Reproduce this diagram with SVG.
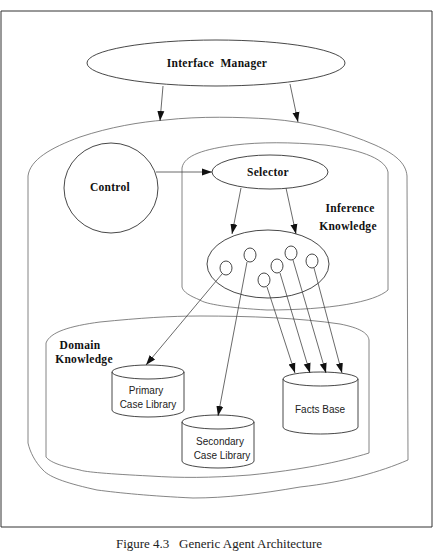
<svg xmlns="http://www.w3.org/2000/svg" width="437" height="553" viewBox="0 0 437 553">
<defs>
<marker id="ah" markerUnits="userSpaceOnUse" markerWidth="10" markerHeight="10" viewBox="0 0 10 10" refX="10" refY="5" orient="auto">
<path d="M0,1.5 L10,5 L0,8.5 Z" fill="#111"/>
</marker>
</defs>
<style>
.blob{fill:none;stroke:#666;stroke-width:0.8}
.node{fill:#fff;stroke:#333;stroke-width:0.9}
.conn{fill:none;stroke:#444;stroke-width:0.8}
.lbl{font-family:"Liberation Serif",serif;font-weight:bold;font-size:11.5px;letter-spacing:0.3px;fill:#111}
.cyl{font-family:"Liberation Sans",Arial,sans-serif;font-size:10px;fill:#222}
.cap{font-family:"Liberation Serif",serif;font-size:13px;fill:#222}
</style>
<rect width="437" height="553" fill="#fff"/>
<path d="M1,11 L432,11 L432,527 L1,527 Z" fill="none" stroke="#333" stroke-width="1"/>
<g id="outer">
<path class="blob" d="M28,443 L28,176 C30,160 50,148 80,137 C110,127 140,122 165,120 C200,116 240,117 270,119 C310,122 345,132 375,145 C395,154 406,163 407,176 L408,460 C380,472 345,482 300,487 C260,494 225,498 193,498 C150,496 120,493 97,490 C70,484 50,478 43,470 C35,462 30,452 28,443 Z"/>
</g>
<g id="inference">
<path class="blob" d="M182,287 L182,168 C184,155 205,149 235,145 C260,142 290,142 325,145 C355,149 385,157 388,172 L388,290 C375,302 330,310 267,310 C230,308 205,304 200,300 C190,296 183,292 182,287 Z"/>
<text class="lbl" x="350" y="212" text-anchor="middle">Inference</text>
<text class="lbl" x="348" y="230" text-anchor="middle">Knowledge</text>
</g>
<g id="domain">
<path class="blob" d="M46,457 L46,343 C50,332 70,326 100,322 C140,318 170,316 200,316 C250,316 300,318 340,324 C360,328 368,333 369,340 L369,453 C340,462 300,470 250,475 C210,478 180,478 150,476 C110,474 85,472 80,470 C60,466 50,462 46,457 Z"/>
<text class="lbl" x="80" y="349" text-anchor="middle">Domain</text>
<text class="lbl" x="84" y="363" text-anchor="middle">Knowledge</text>
</g>
<g id="interface-manager">
<ellipse class="node" cx="216" cy="63" rx="129" ry="23"/>
<text class="lbl" x="217" y="67" text-anchor="middle" xml:space="preserve">Interface  Manager</text>
</g>
<g id="control">
<ellipse class="node" cx="111" cy="188" rx="47" ry="45"/>
<text class="lbl" x="110" y="191" text-anchor="middle">Control</text>
</g>
<g id="selector">
<ellipse class="node" cx="270" cy="172" rx="58" ry="17"/>
<text class="lbl" x="268" y="176" text-anchor="middle">Selector</text>
</g>
<g id="rule-cluster">
<ellipse class="node" cx="268" cy="264" rx="61" ry="34"/>
<ellipse class="node" cx="226" cy="268" rx="6" ry="7"/>
<ellipse class="node" cx="250" cy="255" rx="6" ry="7"/>
<ellipse class="node" cx="264" cy="280" rx="6" ry="7"/>
<ellipse class="node" cx="277" cy="266" rx="6" ry="7"/>
<ellipse class="node" cx="291" cy="253" rx="6" ry="7"/>
<ellipse class="node" cx="312" cy="261" rx="6" ry="7"/>
</g>
<g id="primary-case-library">
<path class="node" d="M112,372 L112,410 A36,7 0 0 0 184,410 L184,372 A36,7 0 0 0 112,372 A36,7 0 0 0 184,372"/>
<text class="cyl" x="146" y="394" text-anchor="middle">Primary</text>
<text class="cyl" x="148" y="408" text-anchor="middle">Case Library</text>
</g>
<g id="secondary-case-library">
<path class="node" d="M182,422 L182,461 A36,7 0 0 0 254,461 L254,422 A36,7 0 0 0 182,422 A36,7 0 0 0 254,422"/>
<text class="cyl" x="220" y="445" text-anchor="middle">Secondary</text>
<text class="cyl" x="222" y="459" text-anchor="middle">Case Library</text>
</g>
<g id="facts-base">
<path class="node" d="M283,379 L283,427 A37.5,7 0 0 0 358,427 L358,379 A37.5,7 0 0 0 283,379 A37.5,7 0 0 0 358,379"/>
<text class="cyl" x="320" y="413" text-anchor="middle">Facts Base</text>
</g>
<g id="connectors">
<line class="conn" x1="163" y1="86" x2="160" y2="121" marker-end="url(#ah)"/>
<line class="conn" x1="290" y1="84" x2="298" y2="122" marker-end="url(#ah)"/>
<line class="conn" x1="156" y1="172" x2="212" y2="172" stroke-width="1.1" marker-end="url(#ah)"/>
<line class="conn" x1="241" y1="188" x2="232" y2="234" marker-end="url(#ah)"/>
<line class="conn" x1="286" y1="188" x2="296" y2="234" marker-end="url(#ah)"/>
<line class="conn" x1="222" y1="274" x2="146" y2="365" marker-end="url(#ah)"/>
<line class="conn" x1="247" y1="262" x2="218" y2="416" marker-end="url(#ah)"/>
<line class="conn" x1="267" y1="287" x2="295" y2="373" marker-end="url(#ah)"/>
<line class="conn" x1="280" y1="273" x2="310" y2="373" marker-end="url(#ah)"/>
<line class="conn" x1="293" y1="260" x2="326" y2="373" marker-end="url(#ah)"/>
<line class="conn" x1="314" y1="268" x2="342" y2="373" marker-end="url(#ah)"/>
</g>
<text class="cap" x="219" y="548" text-anchor="middle" xml:space="preserve">Figure 4.3   Generic Agent Architecture</text>
</svg>
